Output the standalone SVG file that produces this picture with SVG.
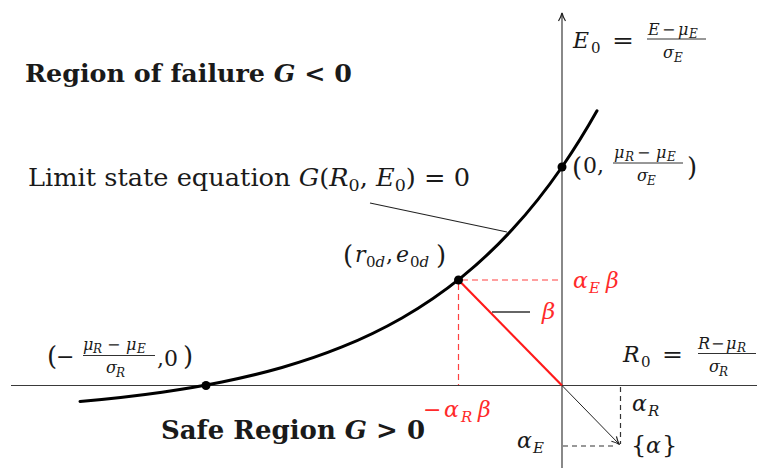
<svg xmlns="http://www.w3.org/2000/svg" width="757" height="468" viewBox="0 0 757 468" font-family="'DejaVu Serif', serif">
<defs>
<style>
text{fill:#1a1a1a}
.i{font-style:italic}
.b{font-weight:bold}
.r{fill:#ff2a2a}
.sub{font-size:12px}
.fr{font-size:16px}
.ax{stroke:#3a3a3a;stroke-width:1.2;fill:none}
.bar{stroke:#1a1a1a;stroke-width:0.9}
.curve{stroke:#000;stroke-width:3;fill:none;stroke-linecap:round}
.rdash{stroke:#ff4040;stroke-width:1.2;stroke-dasharray:6 4;fill:none}
.kdash{stroke:#333;stroke-width:1.2;stroke-dasharray:5 4;fill:none}
.dot{fill:#000}
</style>
<marker id="ah" viewBox="0 0 10 10" refX="9" refY="5" markerWidth="10" markerHeight="10" markerUnits="userSpaceOnUse" orient="auto">
<path d="M1,1.5 Q5,4 9,5 Q5,6 1,8.5" fill="none" stroke="#222" stroke-width="1.2"/>
</marker>
</defs>
<rect width="757" height="468" fill="#fff"/>

<g id="axes">
<line class="ax" x1="11" y1="385.5" x2="757" y2="385.5"/>
<line class="ax" x1="562" y1="468" x2="562" y2="13" marker-end="url(#ah)"/>
</g>

<g id="connectors">
<path class="curve" d="M80,401.45 C107.33,399.03 134.67,396.04 162,392.15 C182,389.3 202,385.98 222,381.95 C242,377.92 262,373.2 282,367.49 C302,361.78 322,355.07 342,346.98 C362,338.89 382,329.44 402,317.99 C422,306.54 442,293.11 462,276.89 C478.67,263.37 495.33,247.91 512,229.85 C528.67,211.79 545.33,191.14 562,167 C573.67,150.1 585.33,131.5 597,110.8"/>
<line x1="370" y1="203" x2="507" y2="232" stroke="#222" stroke-width="1.1"/>
<line class="rdash" x1="462" y1="280" x2="562" y2="280"/>
<line class="rdash" x1="458.5" y1="284" x2="458.5" y2="385"/>
<line x1="458.5" y1="280" x2="562" y2="385.5" stroke="#ff1a1a" stroke-width="2.2"/>
<line x1="492" y1="312" x2="530" y2="312" stroke="#666" stroke-width="1.8"/>
<line class="kdash" x1="620.5" y1="387" x2="620.5" y2="444"/>
<line class="kdash" x1="563" y1="446" x2="616" y2="446"/>
<line x1="562" y1="385.5" x2="619.5" y2="444.5" stroke="#222" stroke-width="1" marker-end="url(#ah)"/>
</g>

<g id="points">
<circle class="dot" cx="206" cy="385.5" r="4.5"/>
<circle class="dot" cx="458.5" cy="280" r="4.5"/>
<circle class="dot" cx="562" cy="167" r="4.5"/>
</g>

<g id="region-failure">
<text class="b" x="25" y="82" font-size="25" textLength="327" lengthAdjust="spacingAndGlyphs">Region of failure <tspan class="i">G</tspan> &lt; 0</text>
</g>

<g id="safe-region">
<text class="b" x="161" y="439" font-size="26" textLength="264" lengthAdjust="spacingAndGlyphs">Safe Region <tspan class="i">G</tspan> &gt; 0</text>
</g>

<g id="limit-state">
<text x="28" y="186" font-size="25" textLength="442" lengthAdjust="spacingAndGlyphs">Limit state equation <tspan class="i">G</tspan>(<tspan class="i">R</tspan><tspan font-size="17" dy="5">0</tspan><tspan dy="-5">, </tspan><tspan class="i">E</tspan><tspan font-size="17" dy="5">0</tspan><tspan dy="-5">) = 0</tspan></text>
</g>

<g id="E0-label">
<text class="i" x="573" y="48" font-size="22">E</text>
<text x="591" y="53" font-size="15">0</text>
<text x="612" y="48" font-size="22" textLength="22" lengthAdjust="spacingAndGlyphs">=</text>
<text class="i fr" x="648" y="35">E</text>
<text class="fr" x="662" y="35">−</text>
<text class="i fr" x="678" y="35">μ</text>
<text class="i sub" x="689" y="38">E</text>
<line class="bar" x1="647" y1="39" x2="706" y2="39"/>
<text class="i fr" x="663" y="58">σ</text>
<text class="i sub" x="674" y="62">E</text>
</g>

<g id="intercept-E">
<text x="572" y="176" font-size="26">(</text>
<text x="583" y="173" font-size="22">0,</text>
<text class="i fr" x="614" y="158">μ</text>
<text class="i sub" x="625" y="161">R</text>
<text class="fr" x="637" y="158">−</text>
<text class="i fr" x="656" y="158">μ</text>
<text class="i sub" x="667" y="161">E</text>
<line class="bar" x1="613" y1="163" x2="683" y2="163"/>
<text class="i fr" x="637" y="181">σ</text>
<text class="i sub" x="647" y="185">E</text>
<text x="687" y="176" font-size="26">)</text>
</g>

<g id="R0-label">
<text class="i" x="623" y="362" font-size="22">R</text>
<text x="641" y="367" font-size="15">0</text>
<text x="662" y="362" font-size="22" textLength="21" lengthAdjust="spacingAndGlyphs">=</text>
<text class="i fr" x="698" y="349">R</text>
<text class="fr" x="711" y="349">−</text>
<text class="i fr" x="726" y="349">μ</text>
<text class="i sub" x="737" y="352">R</text>
<line class="bar" x1="698" y1="353.5" x2="756" y2="353.5"/>
<text class="i fr" x="709" y="372">σ</text>
<text class="i sub" x="719" y="376">R</text>
</g>

<g id="intercept-R">
<text x="47" y="365" font-size="26">(</text>
<text x="56" y="364" font-size="22">−</text>
<text class="i fr" x="83" y="350">μ</text>
<text class="i sub" x="93" y="353">R</text>
<text class="fr" x="107" y="350">−</text>
<text class="i fr" x="126" y="350">μ</text>
<text class="i sub" x="137" y="353">E</text>
<line class="bar" x1="83" y1="355.5" x2="155" y2="355.5"/>
<text class="i fr" x="106" y="373">σ</text>
<text class="i sub" x="116" y="377">R</text>
<text x="157" y="366" font-size="22">,</text>
<text x="164" y="366" font-size="22">0</text>
<text x="183" y="365" font-size="26">)</text>
</g>

<g id="design-point">
<text x="343" y="264" font-size="26">(</text>
<text class="i" x="355" y="262" font-size="22">r</text>
<text x="366" y="267" font-size="15">0<tspan class="i">d</tspan></text>
<text x="386" y="262" font-size="22">,</text>
<text class="i" x="396" y="262" font-size="22">e</text>
<text x="410" y="267" font-size="15">0<tspan class="i">d</tspan></text>
<text x="436" y="264" font-size="26">)</text>
</g>

<g id="red-labels">
<text class="i r" x="573" y="288" font-size="22">α</text>
<text class="i r" x="589" y="293" font-size="15">E</text>
<text class="i r" x="606" y="288" font-size="22">β</text>
<text class="i r" x="542" y="319" font-size="23">β</text>
<text class="r" x="423" y="417" font-size="22">−</text>
<text class="i r" x="444" y="417" font-size="22">α</text>
<text class="i r" x="461" y="422" font-size="15">R</text>
<text class="i r" x="478" y="417" font-size="22">β</text>
</g>

<g id="alpha-labels">
<text class="i" x="517" y="448" font-size="22">α</text>
<text class="i" x="533" y="453" font-size="15">E</text>
<text class="i" x="632" y="411" font-size="22">α</text>
<text class="i" x="648" y="416" font-size="15">R</text>
<text x="631" y="453" font-size="24">{</text>
<text class="i" x="646" y="453" font-size="22">α</text>
<text x="662" y="453" font-size="24">}</text>
</g>
</svg>
